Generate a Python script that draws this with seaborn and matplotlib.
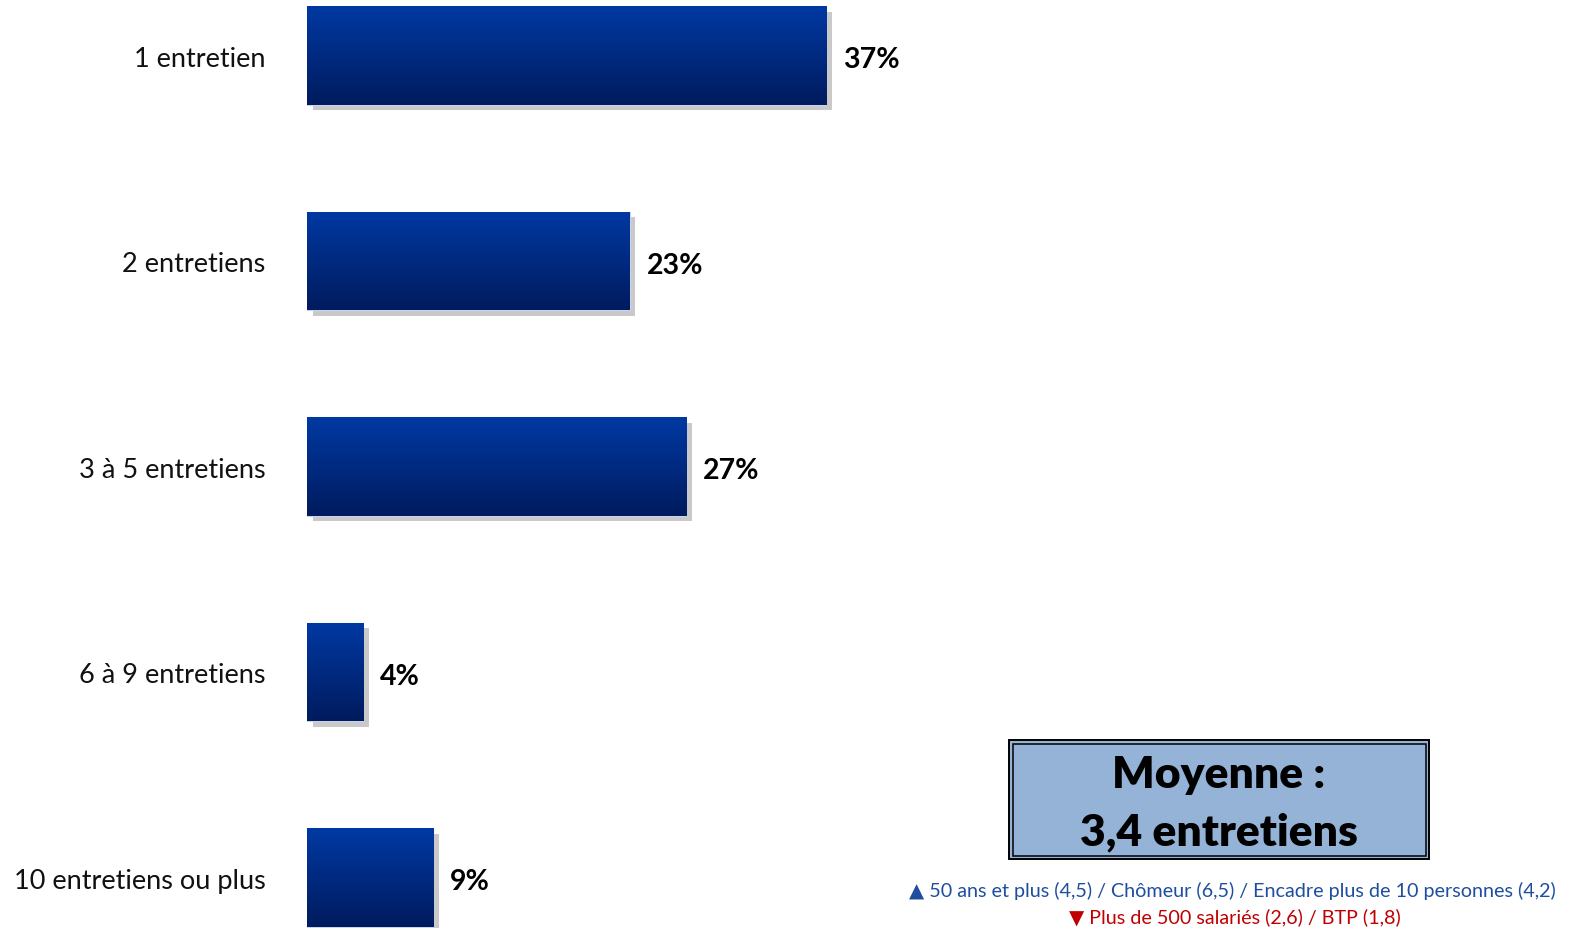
import numpy as np
import pandas as pd
import seaborn as sns
import matplotlib.pyplot as plt
from matplotlib import patheffects as pe
from matplotlib.patches import Rectangle

categories = ["1 entretien", "2 entretiens", "3 à 5 entretiens", "6 à 9 entretiens", "10 entretiens ou plus"]
values = [37, 23, 27, 4, 9]
value_labels = ["37%", "23%", "27%", "4%", "9%"]
moyenne_lines = ["Moyenne :", "3,4 entretiens"]
note_up = "▲ 50 ans et plus (4,5) / Chômeur (6,5) / Encadre plus de 10 personnes (4,2)"
note_down = "▼ Plus de 500 salariés (2,6) / BTP (1,8)"

sns.set_style("white")
plt.rcParams['font.family'] = ['Lato', 'DejaVu Sans']

df = pd.DataFrame({"cat": categories, "val": values})

fig = plt.figure(figsize=(15.77, 9.29), dpi=100)
ax = fig.add_axes([307 / 1577, 0, 1 - 307 / 1577, 1])
sns.barplot(data=df, x="val", y="cat", orient="h", width=0.48, color="#002a80",
            edgecolor="#c8d4ee", linewidth=0.8, ax=ax)
sns.despine(ax=ax, left=True, bottom=True)
ax.set_xlabel("")
ax.set_ylabel("")
ax.set_xticks([])
ax.tick_params(axis="y", length=0, pad=30, labelsize=19.5)
for lab in ax.get_yticklabels():
    lab.set_color("#111111")

# gradient fill + drop shadow
grad = np.linspace(0, 1, 256).reshape(-1, 1)
cmap = sns.blend_palette(["#0039a3", "#001b5e"], as_cmap=True)
for p in ax.patches:
    p.set_path_effects([pe.SimplePatchShadow(offset=(4, -4), shadow_rgbFace="0.7", alpha=0.7), pe.Normal()])
    x0, y0 = p.get_x(), p.get_y()
    w, h = p.get_width(), p.get_height()
    im = ax.imshow(grad, cmap=cmap, aspect="auto", extent=(x0, x0 + w, y0 + h, y0),
                   origin="upper", zorder=p.get_zorder() + 0.1)
    im.set_clip_path(p)
ax.set_xlim(0, (1577 - 307) / 14.04)
ax.set_ylim(4.245, -0.275)

for i, (v, t) in enumerate(zip(values, value_labels)):
    ax.annotate(t, (v, i), xytext=(12, -2.5), textcoords="offset points",
                ha="left", va="center", fontsize=20.5, fontweight="bold", color="black")

# average box (double border)
bx0, by0, bw, bh = 1009 / 1577, 1 - 860 / 929, 420 / 1577, 119 / 929
fig.patches.append(Rectangle((bx0, by0), bw, bh, transform=fig.transFigure,
                             facecolor="#95b3d7", edgecolor="black", linewidth=1.4))
dx, dy = 3.5 / 1577, 3.5 / 929
fig.patches.append(Rectangle((bx0 + dx, by0 + dy), bw - 2 * dx, bh - 2 * dy,
                             transform=fig.transFigure, facecolor="none",
                             edgecolor="black", linewidth=1.1))
fig.text(bx0 + bw / 2, 1 - 775 / 929, moyenne_lines[0], ha="center", va="center",
         fontsize=32, fontweight="heavy", color="black")
fig.text(bx0 + bw / 2, 1 - 832 / 929, moyenne_lines[1], ha="center", va="center",
         fontsize=32, fontweight="heavy", color="black")

fig.text(1232 / 1577, 1 - 891 / 929, note_up, ha="center", va="center",
         fontsize=14.2, color="#1f4e9f")
fig.text(1235 / 1577, 1 - 917 / 929, note_down, ha="center", va="center",
         fontsize=14.2, color="#c00000")

fig.savefig("out.png", dpi=100)
